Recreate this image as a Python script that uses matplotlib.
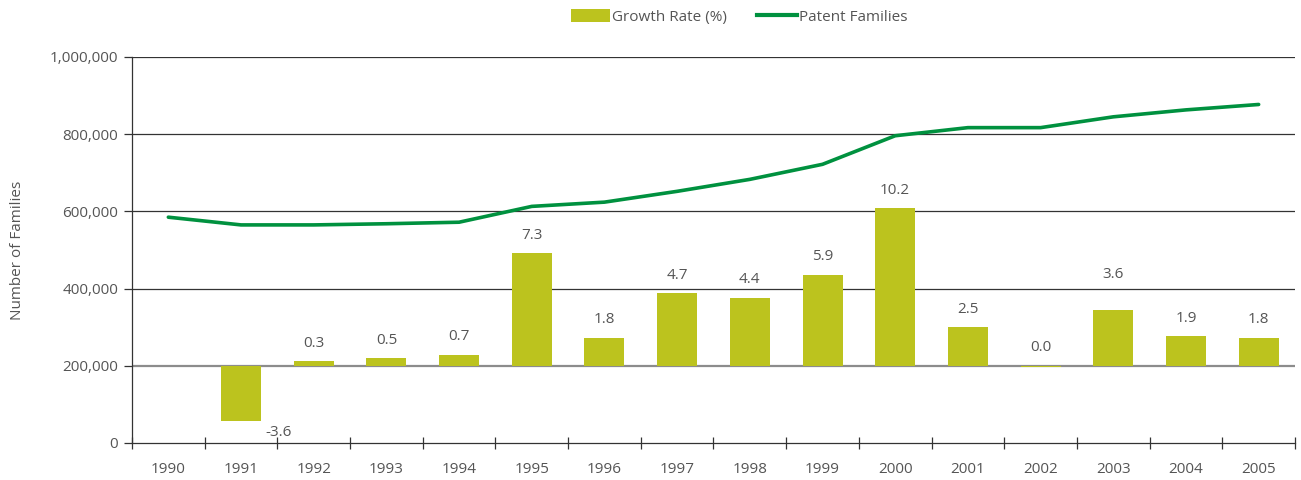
import matplotlib
matplotlib.use("Agg")
import matplotlib.pyplot as plt
from matplotlib.ticker import FuncFormatter, FixedLocator
from matplotlib.patches import Patch
from matplotlib.lines import Line2D
import numpy as np

years = ["1990", "1991", "1992", "1993", "1994", "1995", "1996", "1997",
         "1998", "1999", "2000", "2001", "2002", "2003", "2004", "2005"]
patent_families = [585000, 565000, 565000, 568000, 572000, 613000, 624000, 652000,
                   683000, 722000, 796000, 817000, 817000, 845000, 863000, 877000]
growth_years = years[1:]
growth_rate = [-3.6, 0.3, 0.5, 0.7, 7.3, 1.8, 4.7, 4.4, 5.9, 10.2, 2.5, -0.1, 3.6, 1.9, 1.8]
growth_labels = ["-3.6", "0.3", "0.5", "0.7", "7.3", "1.8", "4.7", "4.4", "5.9",
                 "10.2", "2.5", "0.0", "3.6", "1.9", "1.8"]

plt.rcParams['font.family'] = ['Open Sans', 'DejaVu Sans']
text_color = "#555555"
bar_color = "#BCC31E"
line_color = "#00913F"
fs = 11

fig = plt.figure(figsize=(13.01, 4.8), dpi=100)
ax = fig.add_axes([132/1301, (480-443)/480, (1295-132)/1301, (443-57)/480])
ax2 = ax.twinx()

x = np.arange(len(years))
bx = np.arange(1, len(years))

ax.set_xlim(-0.5, len(years) - 0.5)
ax.set_ylim(0, 1000000)
ax2.set_ylim(-5, 20)

# gridlines below the bars
ax2.hlines([400000, 600000, 800000, 1000000], 0, 1, transform=ax.get_yaxis_transform(),
           color="#333333", lw=0.9, zorder=0)

ax2.bar(bx, growth_rate, width=0.55, color=bar_color, zorder=2)
ax2.axhline(0, color="#8c8c8c", lw=1.6, zorder=1)
for xi, v, lab in zip(bx, growth_rate, growth_labels):
    if v < -1:
        ax2.annotate(lab, (xi + 0.3, v), xytext=(2, -8), textcoords="offset points",
                     ha="left", va="center", fontsize=fs, color=text_color)
    else:
        off = 26 if lab == "3.6" else 13
        ax2.annotate(lab, (xi, max(v, 0)), xytext=(0, off), textcoords="offset points",
                     ha="center", va="center", fontsize=fs, color=text_color)

ax.set_zorder(ax2.get_zorder() + 1)
ax.patch.set_visible(False)
ax.plot(x, patent_families, color=line_color, lw=2.6, solid_capstyle="round", zorder=5)

ax2.set_yticks([])
for s in ax2.spines.values():
    s.set_visible(False)

for s in ["top", "right"]:
    ax.spines[s].set_visible(False)
ax.spines["left"].set_color("#333333")
ax.spines["bottom"].set_color("#333333")
ax.spines["left"].set_linewidth(0.9)
ax.spines["bottom"].set_linewidth(0.9)

ax.set_yticks([0, 200000, 400000, 600000, 800000, 1000000])
ax.yaxis.set_major_formatter(FuncFormatter(lambda v, p: f"{int(v):,}"))
ax.tick_params(axis="y", direction="out", length=6, width=0.9, color="#333333",
               labelsize=fs, labelcolor=text_color, pad=4)

ax.set_xticks(x)
ax.set_xticklabels(years)
ax.xaxis.set_minor_locator(FixedLocator(np.arange(-0.5, len(years), 1.0)))
ax.tick_params(axis="x", which="major", length=0, labelsize=fs, labelcolor=text_color, pad=14)
ax.tick_params(axis="x", which="minor", direction="inout", length=9, width=0.9, color="#333333")

ax.set_ylabel("Number of Families", fontsize=fs, color=text_color, labelpad=18)

handles = [Patch(facecolor=bar_color, edgecolor="none"),
           Line2D([0], [0], color=line_color, lw=3)]
fig.legend(handles, ["Growth Rate (%)", "Patent Families"], loc="center",
           bbox_to_anchor=(0.568, 1 - 17/480), ncol=2, frameon=False,
           fontsize=fs, labelcolor=text_color, handlelength=2.6, handleheight=0.9,
           handletextpad=0.1, columnspacing=2.0)

fig.savefig("out.png", dpi=100)
